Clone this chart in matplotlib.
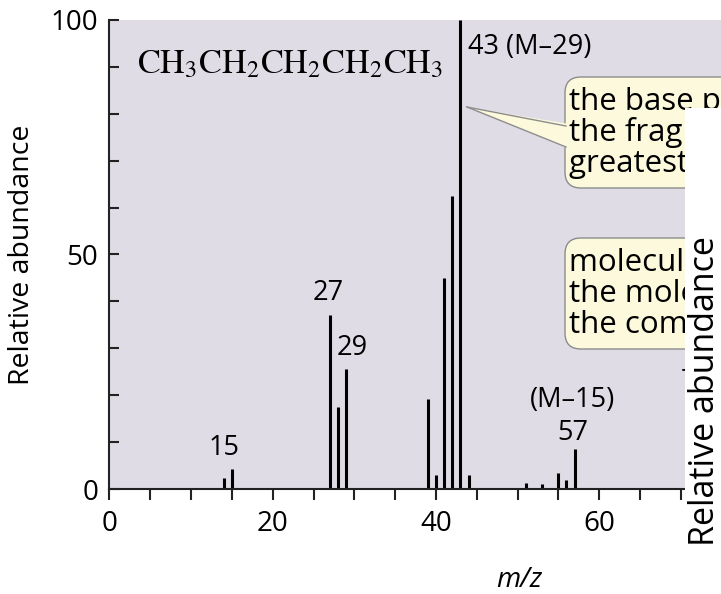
"""Mass spectrum of pentane (cropped textbook figure)."""

import matplotlib
matplotlib.use("Agg")
import matplotlib.pyplot as plt
from matplotlib.patches import FancyBboxPatch, Polygon, Rectangle
from matplotlib.lines import Line2D
from matplotlib.transforms import IdentityTransform

plt.rcParams["font.family"] = ["Open Sans", "DejaVu Sans"]
plt.rcParams["mathtext.fontset"] = "stix"

W, H = 721, 594

# m/z and relative abundance
mz = [14, 15, 27, 28, 29, 39, 40, 41, 42, 43, 44, 51, 53, 55, 56, 57, 72]
abundance = [2.3, 4.3, 37, 17.5, 25.6, 19.2, 3, 45, 62.5, 100, 3,
             1.2, 1.0, 3.4, 2.0, 8.5, 9]

# peak annotations: (text, m/z, abundance, ha)
peak_labels = [
    ("43 (M\u201329)", 43.9, 94.2, "left"),
    ("27", 26.8, 41.8, "center"),
    ("29", 29.7, 30.0, "center"),
    ("15", 14.1, 8.7, "center"),
    ("(M\u201315)", 56.7, 19.0, "center"),
    ("57", 56.8, 12.0, "center"),
    ("72", 70.0, 22.8, "left"),
]

base_peak_lines = ["the base peak is", "the fragment with the",
                   "greatest abundance"]
mol_ion_lines = ["molecular ion (M):", "the molecular mass of",
                 "the compound"]

LAVENDER = "#dfdce6"
NOTE = "#fcf9dc"
EDGE = "#8c8c8c"
INK = "#222222"


def px(x, y):
    """image pixel (from top-left) -> display coords"""
    return x, H - y


fig = plt.figure(figsize=(W / 100, H / 100), dpi=100)
x0, y0, xpx = 109.5, 489.0, 8.16
ax = fig.add_axes([x0 / W, (H - y0) / H, 80 * xpx / W, 469 / H])
ax.set_facecolor(LAVENDER)

ax.vlines(mz, 0, abundance, color="black", lw=2.2)

ax.set_xlim(0, 80)
ax.set_ylim(0, 100)
for s in ("top", "right"):
    ax.spines[s].set_visible(False)
for s in ("left", "bottom"):
    ax.spines[s].set_linewidth(1.5)
    ax.spines[s].set_color(INK)

ax.set_xticks([0, 20, 40, 60, 80])
ax.set_xticks(range(0, 81, 5), minor=True)
ax.set_yticks([0, 50, 100])
ax.set_yticks(range(0, 101, 10), minor=True)
ax.tick_params(axis="x", which="both", direction="out", length=8, width=1.5,
               color=INK, labelsize=20, pad=7)
ax.tick_params(axis="y", which="both", direction="in", length=7, width=1.5,
               color=INK, labelsize=20, pad=8)

ax.set_ylabel("Relative abundance", fontsize=20.5)
ax.yaxis.set_label_coords((36 - x0) / (80 * xpx), 0.5)
ax.set_xlabel("m/z", fontsize=20, style="italic")
ax.xaxis.set_label_coords((519 - x0) / (80 * xpx), (y0 - 566) / 469)

for txt, x, y, ha in peak_labels:
    ax.text(x, y, txt, ha=ha, va="center", fontsize=19.5)

ax.text(3.4, 90.5, r"$\mathrm{CH_3CH_2CH_2CH_2CH_3}$", fontsize=24.6,
        ha="left", va="center")

# callout boxes
ident = IdentityTransform()


def callout(top, lines):
    bottom = top + 111
    box = FancyBboxPatch(px(565, bottom), 300, 111,
                         boxstyle="round,pad=0,rounding_size=16",
                         fc=NOTE, ec=EDGE, lw=1.0, transform=ident, zorder=5)
    fig.add_artist(box)
    for i, line in enumerate(lines):
        fig.text(569, H - (top + 33 + 31 * i), line, fontsize=22.5,
                 ha="left", va="baseline", transform=ident, zorder=6)


callout(77, base_peak_lines)
callout(238, mol_ion_lines)

tip, a, b = px(467, 107), px(566, 126), px(566, 147)
fig.add_artist(Polygon([tip, px(569, 124), px(569, 149)], closed=True,
                       fc=NOTE, ec="none", transform=ident, zorder=5.5))
for end in (a, b):
    fig.add_artist(Line2D([tip[0], end[0]], [tip[1], end[1]], color=EDGE,
                          lw=1.0, transform=ident, zorder=5.6))

# overlapping neighbour panel on the right, from y=108 px down
panel_top = 108
fig.add_artist(Rectangle((685, 0), W - 685, H - panel_top, fc="white",
                         ec="none", transform=ident, zorder=10))
fig.text(705, H - 391, "Relative abundance", rotation=90, fontsize=24.5,
         ha="center", va="center", transform=ident, zorder=11)

fig.savefig("out.png", dpi=100)
